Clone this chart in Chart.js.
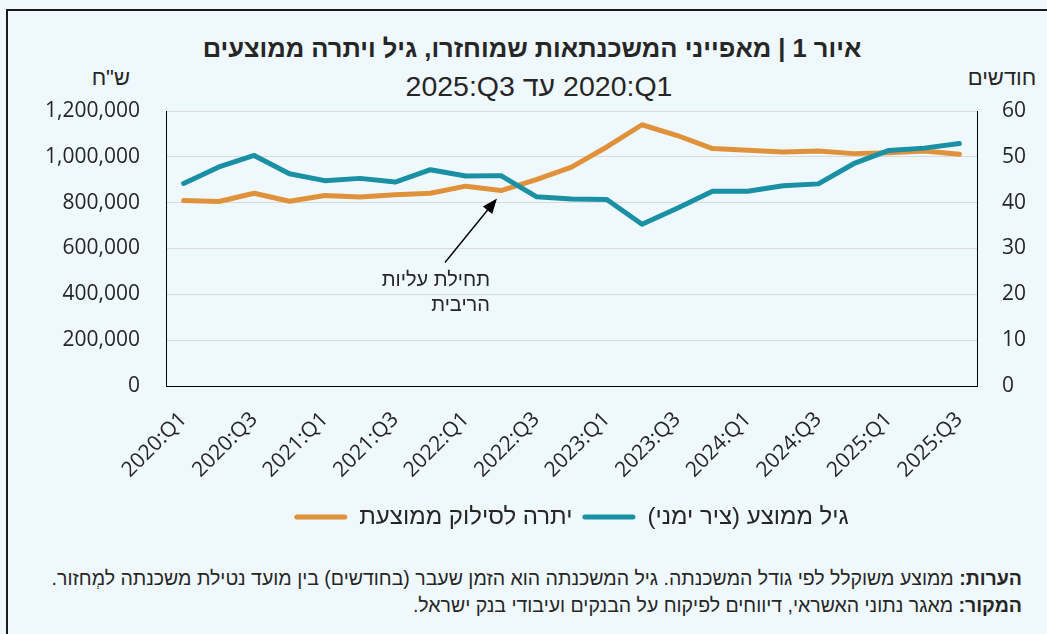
<!DOCTYPE html>
<html>
<head>
<meta charset="utf-8">
<script src="https://cdn.jsdelivr.net/npm/chart.js@4"></script>
<style>
  html, body { margin: 0; padding: 0; }
  body { width: 1047px; height: 634px; background: #eff8fd; position: relative; overflow: hidden;
         font-family: "Liberation Sans", Arial, sans-serif; color: #262626; }
  #frame { position: absolute; left: 6px; top: 9px; width: 1100px; height: 700px;
           border-left: 2px solid #1a1a1a; border-top: 2px solid #1a1a1a; }
  #wrap { position: absolute; left: 0; top: 0; width: 1047px; height: 550px; direction: ltr; }
  .txt { position: absolute; white-space: nowrap; }
  #title { left: 0; width: 1064px; top: 33px; line-height: 30px; font-size: 25.5px; font-weight: bold; text-align: center; }
  #subtitle { left: 0; width: 1078px; top: 70px; line-height: 32px; font-size: 28.5px; text-align: center; }
  #unitLeft { right: 917px; top: 66px; line-height: 24px; font-size: 22px; }
  #unitRight { left: 962px; width: 80px; top: 66px; line-height: 24px; font-size: 22px; text-align: center; }
  #notes { right: 25px; top: 565px; line-height: 27px; font-size: 19.5px; text-align: right; }
</style>
</head>
<body>
<div id="frame"></div>
<div class="txt" id="title" dir="rtl">איור 1 | מאפייני המשכנתאות שמוחזרו, גיל ויתרה ממוצעים</div>
<div class="txt" id="subtitle" dir="rtl"><bdi dir="ltr">2020:Q1</bdi> עד <bdi dir="ltr">2025:Q3</bdi></div>
<div class="txt" id="unitLeft" dir="rtl">ש"ח</div>
<div class="txt" id="unitRight" dir="rtl">חודשים</div>
<div id="wrap"><canvas id="chart"></canvas></div>
<div class="txt" id="notes" dir="rtl">
  <div><b>הערות:</b> ממוצע משוקלל לפי גודל המשכנתה. גיל המשכנתה הוא הזמן שעבר (בחודשים) בין מועד נטילת משכנתה למְחזור.</div>
  <div><b>המקור:</b> מאגר נתוני האשראי, דיווחים לפיקוח על הבנקים ועיבודי בנק ישראל.</div>
</div>
<script>
// נתונים רבעוניים
const quarters = [
  '2020:Q1', '2020:Q2', '2020:Q3', '2020:Q4',
  '2021:Q1', '2021:Q2', '2021:Q3', '2021:Q4',
  '2022:Q1', '2022:Q2', '2022:Q3', '2022:Q4',
  '2023:Q1', '2023:Q2', '2023:Q3', '2023:Q4',
  '2024:Q1', '2024:Q2', '2024:Q3', '2024:Q4',
  '2025:Q1', '2025:Q2', '2025:Q3'
]
// יתרה לסילוק ממוצעת (ש"ח) - ציר שמאלי
const avgBalance = [
  809000, 805000, 841000, 806000, 831000, 825000, 835000, 841000,
  872000, 853000, 901000, 955000, 1043000, 1140000, 1093000, 1036000,
  1029000, 1021000, 1025000, 1014000, 1018000, 1025000, 1011000
]
// גיל ממוצע (חודשים) - ציר ימני
const avgAgeMonths = [
  44.2, 47.8, 50.3, 46.3, 44.8, 45.3, 44.5, 47.2,
  45.8, 45.9, 41.3, 40.8, 40.7, 35.3, 38.8, 42.5,
  42.5, 43.7, 44.1, 48.5, 51.4, 51.9, 52.9
]
const leftTicks = [0, 1200000, 200000]   // min, max, step
const rightTicks = [0, 60, 10]
const rateStartIndex = 9                // תחילת עליות הריבית

const ORANGE = '#e0923a'
const TEAL = '#1a90a4'
const TICK_FONT = { family: '"Open Sans", "Liberation Sans", sans-serif', size: 21 }
const HEB_FAMILY = '"Liberation Sans", Arial, sans-serif'

// חץ והערה "תחילת עליות הריבית"
const rateNote = {
  id: 'rateNote',
  afterDatasetsDraw(chart) {
    const p = chart.getDatasetMeta(0).data[rateStartIndex]
    const ctx = chart.ctx
    const tip = { x: p.x - 4, y: p.y + 8 }
    const tail = { x: tip.x - 52, y: tip.y + 64 }
    const ang = Math.atan2(tip.y - tail.y, tip.x - tail.x)
    ctx.save()
    ctx.strokeStyle = '#000'
    ctx.fillStyle = '#000'
    ctx.lineWidth = 1.3
    ctx.beginPath()
    ctx.moveTo(tail.x, tail.y)
    ctx.lineTo(tip.x - Math.cos(ang) * 10, tip.y - Math.sin(ang) * 10)
    ctx.stroke()
    ctx.beginPath()
    ctx.moveTo(tip.x, tip.y)
    ctx.lineTo(tip.x - Math.cos(ang) * 15 + Math.sin(ang) * 6, tip.y - Math.sin(ang) * 15 - Math.cos(ang) * 6)
    ctx.lineTo(tip.x - Math.cos(ang) * 15 - Math.sin(ang) * 6, tip.y - Math.sin(ang) * 15 + Math.cos(ang) * 6)
    ctx.closePath()
    ctx.fill()

    ctx.direction = 'rtl'
    ctx.textAlign = 'right'
    ctx.textBaseline = 'middle'
    ctx.fillStyle = '#262626'
    ctx.font = '20px ' + HEB_FAMILY
    ctx.fillText('תחילת עליות', tip.x - 7, tip.y + 82)
    ctx.fillText('הריבית', tip.x - 7, tip.y + 107)
    ctx.restore()
  }
}

new Chart(document.getElementById('chart').getContext('2d'), {
  type: 'line',
  data: {
    labels: quarters,
    datasets: [
      {
        label: 'יתרה לסילוק ממוצעת',
        data: avgBalance,
        yAxisID: 'y',
        borderColor: ORANGE,
        backgroundColor: ORANGE,
        borderWidth: 5,
        order: 1
      },
      {
        label: 'גיל ממוצע (ציר ימני)',
        data: avgAgeMonths,
        yAxisID: 'y1',
        borderColor: TEAL,
        backgroundColor: TEAL,
        borderWidth: 5,
        order: 0
      }
    ]
  },
  options: {
    responsive: true,
    maintainAspectRatio: false,
    animation: false,
    layout: { padding: { top: 111, bottom: 11, left: 0, right: 0 } },
    elements: {
      point: { radius: 0 },
      line: { tension: 0, borderJoinStyle: 'round', borderCapStyle: 'round' }
    },
    plugins: {
      tooltip: { enabled: false },
      legend: {
        position: 'bottom',
        fullSize: false,
        labels: {
          font: { family: HEB_FAMILY, size: 24 },
          color: '#262626',
          boxWidth: 53,
          boxHeight: 5,
          padding: 10,
          useBorderRadius: true,
          borderRadius: 2.5,
          sort: (a, b) => a.datasetIndex - b.datasetIndex,
          generateLabels(chart) {
            const items = Chart.defaults.plugins.legend.labels.generateLabels(chart)
            items.forEach(item => { item.lineWidth = 0 })
            return items
          }
        }
      }
    },
    scales: {
      x: {
        offset: true,
        grid: { display: false },
        border: { display: true, color: '#000', width: 1 },
        ticks: {
          autoSkip: false,
          minRotation: 45,
          maxRotation: 45,
          padding: 13,
          font: TICK_FONT,
          color: '#262626',
          callback(v, i) { return i % 2 === 0 ? this.getLabelForValue(v) : '' }
        },
        afterFit(scale) { scale.height = 109 }
      },
      y: {
        position: 'left',
        min: leftTicks[0],
        max: leftTicks[1],
        grid: { color: '#d9d9d9', drawTicks: false },
        border: { display: true, color: '#000', width: 1 },
        ticks: {
          stepSize: leftTicks[2],
          padding: 26,
          font: TICK_FONT,
          color: '#262626',
          callback: v => v.toLocaleString('en-US')
        },
        afterFit(scale) { scale.width = 166 }
      },
      y1: {
        position: 'right',
        min: rightTicks[0],
        max: rightTicks[1],
        grid: { drawOnChartArea: false, drawTicks: false },
        border: { display: true, color: '#000', width: 1 },
        ticks: {
          stepSize: rightTicks[2],
          padding: 25,
          font: TICK_FONT,
          color: '#262626'
        },
        afterFit(scale) { scale.width = 70 }
      }
    }
  },
  plugins: [rateNote]
})
</script>
</body>
</html>
